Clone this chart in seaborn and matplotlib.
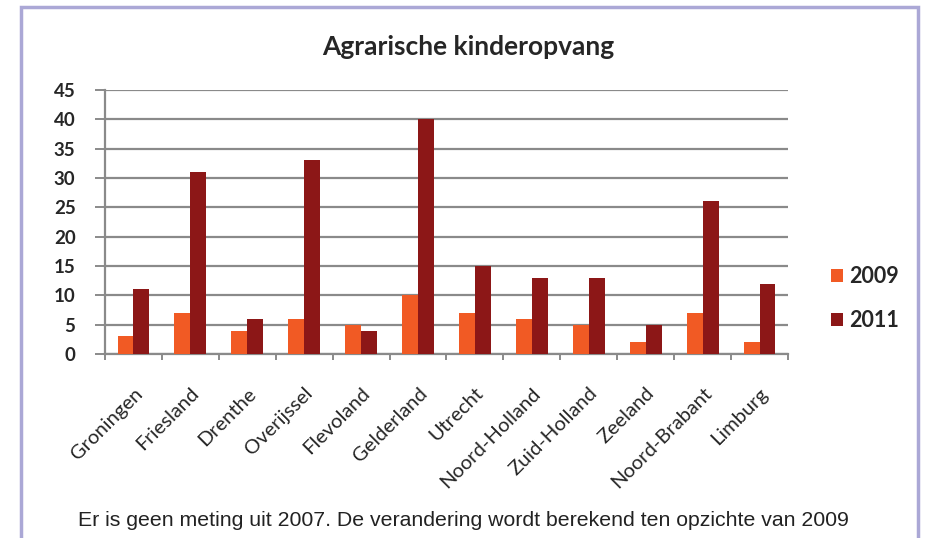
import matplotlib
matplotlib.use("Agg")
import matplotlib.pyplot as plt
from matplotlib.patches import Rectangle
import seaborn as sns
import pandas as pd
import numpy as np

provinces = ["Groningen", "Friesland", "Drenthe", "Overijssel", "Flevoland", "Gelderland",
             "Utrecht", "Noord-Holland", "Zuid-Holland", "Zeeland", "Noord-Brabant", "Limburg"]
years = ["2009", "2011"]
values_2009 = [3, 7, 4, 6, 5, 10, 7, 6, 5, 2, 7, 2]
values_2011 = [11, 31, 6, 33, 4, 40, 15, 13, 13, 5, 26, 12]
yticks = [0, 5, 10, 15, 20, 25, 30, 35, 40, 45]

df = pd.DataFrame({
    "provincie": provinces * 2,
    "jaar": [years[0]] * len(provinces) + [years[1]] * len(provinces),
    "aantal": values_2009 + values_2011,
})

sns.set_theme(style="white")
plt.rcParams["font.family"] = ["Lato", "DejaVu Sans"]

fig = plt.figure(figsize=(9.26, 5.38), dpi=100)
ax = fig.add_axes([105 / 926, 184 / 538, 683 / 926, 264 / 538])

palette = {"2009": "#F15A24", "2011": "#8C1717"}
sns.barplot(data=df, x="provincie", y="aantal", hue="jaar", palette=palette,
            width=0.56, saturation=1, linewidth=0, ax=ax, zorder=3)

ax.set_ylim(0, 45)
ax.set_xlim(-0.5, len(provinces) - 0.5)
ax.set_yticks(yticks)
ax.yaxis.grid(True, color="#8a8a8a", linewidth=1.6, zorder=0)
ax.set_axisbelow(True)
ax.set_xlabel("")
ax.set_ylabel("")

for side in ["top", "right"]:
    ax.spines[side].set_visible(False)
for side in ["left", "bottom"]:
    ax.spines[side].set_color("#8a8a8a")
    ax.spines[side].set_linewidth(1.6)

# y ticks: grey stubs left of the axis, bold labels
ax.tick_params(axis="y", which="major", left=True, length=7.2, width=1.4, color="#8a8a8a",
               labelsize=13.5, pad=14)
for lbl in ax.get_yticklabels():
    lbl.set_fontweight("bold")

# x: labels at category centres, tick marks between categories
ax.set_xticks(np.arange(len(provinces)))
ax.set_xticklabels(provinces, rotation=45, ha="right", rotation_mode="anchor", fontsize=14.5)
ax.tick_params(axis="x", which="major", length=0, pad=22)
ax.set_xticks(np.arange(len(provinces) + 1) - 0.5, minor=True)
ax.tick_params(axis="x", which="minor", bottom=True, length=4, width=1.4, color="#8a8a8a")

ax.legend(loc="center left", bbox_to_anchor=(1.035, 0.21), frameon=False,
          handlelength=0.55, handleheight=0.55, handletextpad=0.3, labelspacing=1.05,
          prop={"size": 15.5, "weight": "bold"})

fig.text(468 / 926, 1 - 47 / 538, "Agrarische kinderopvang", ha="center", va="center",
         fontsize=19, fontweight="bold")
fig.text(463 / 926, 1 - 521 / 538,
         "Er is geen meting uit 2007. De verandering wordt berekend ten opzichte van 2009",
         ha="center", va="center", fontsize=15.3, color="#222222",
         family=["Liberation Sans", "DejaVu Sans"])

# lavender frame, open at the bottom
fig.patches.append(Rectangle((21 / 926, -0.05), 897 / 926, 1.05 - 7 / 538,
                             transform=fig.transFigure, fill=False,
                             edgecolor="#ABA8D6", linewidth=2.5))

fig.savefig("out.png", dpi=100)
